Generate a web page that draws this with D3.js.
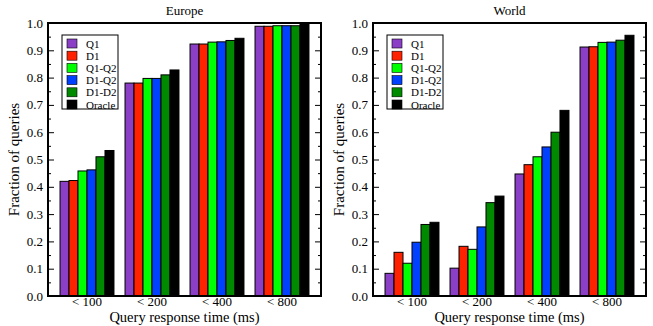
<!DOCTYPE html>
<html>
<head>
<meta charset="utf-8">
<script src="https://cdn.jsdelivr.net/npm/d3@7"></script>
<style>
  body { margin: 0; background: #fff; }
  svg text { font-family: "Liberation Serif", "Times New Roman", Times, serif; }
  .frame { fill: none; stroke: #000; stroke-width: 2; }
  .bar { stroke: #000; stroke-width: 1; }
  .tick-lbl { font-size: 13px; }
</style>
</head>
<body>
<svg id="chart" width="653" height="326"></svg>
<script>
// Chart data
const categories = ["< 100", "< 200", "< 400", "< 800"];
const series = ["Q1", "D1", "Q1-Q2", "D1-Q2", "D1-D2", "Oracle"];
const colors = ["#8b3fc6", "#ff2200", "#00ff00", "#0040ff", "#008a00", "#000000"];

// Europe values, one array per category (in series order)
const europe = [
  [0.420, 0.423, 0.458, 0.462, 0.510, 0.533],
  [0.780, 0.780, 0.797, 0.797, 0.810, 0.828],
  [0.923, 0.923, 0.930, 0.931, 0.936, 0.944],
  [0.988, 0.988, 0.990, 0.990, 0.990, 0.998]
];

// World values
const world = [
  [0.083, 0.160, 0.120, 0.197, 0.262, 0.270],
  [0.102, 0.182, 0.171, 0.253, 0.342, 0.366],
  [0.447, 0.481, 0.510, 0.546, 0.600, 0.680],
  [0.912, 0.913, 0.929, 0.930, 0.937, 0.955]
];

const yTicks = [0, 0.1, 0.2, 0.3, 0.4, 0.5, 0.6, 0.7, 0.8, 0.9, 1.0];
const yMinor = d3.range(0.05, 1, 0.1);

const svg = d3.select("#chart");
const plotTop = 23, plotBottom = 296, plotW = 273;

function drawPanel(left, title, data) {
  let g = svg.append("g").attr("transform", `translate(${left},0)`);

  let x = d3.scaleBand().domain(categories).range([0, plotW])
    .paddingInner(0.17).paddingOuter(0.185);
  let xs = d3.scaleBand().domain(series).range([0, x.bandwidth()]);
  let y = d3.scaleLinear().domain([0, 1]).range([plotBottom, plotTop]);

  // Bars
  data.forEach((vals, ci) => {
    g.append("g")
      .attr("transform", `translate(${x(categories[ci])},0)`)
      .selectAll("rect")
      .data(vals)
      .enter()
      .append("rect")
      .attr("class", "bar")
      .attr("x", (d, i) => xs(series[i]))
      .attr("width", xs.bandwidth())
      .attr("y", d => y(d))
      .attr("height", d => y(0) - y(d))
      .attr("fill", (d, i) => colors[i]);
  });

  // Left axis with inward ticks
  g.append("g").call(d3.axisRight(y).tickValues(yTicks).tickSize(6).tickFormat(""))
    .select(".domain").remove();
  g.append("g").call(d3.axisRight(y).tickValues(yMinor).tickSize(3).tickFormat(""))
    .select(".domain").remove();
  g.selectAll(".yl")
    .data(yTicks)
    .enter()
    .append("text")
    .attr("class", "tick-lbl")
    .attr("x", -5)
    .attr("y", d => y(d) + 4.5)
    .attr("text-anchor", "end")
    .text(d3.format(".1f"));

  // Right axis with inward ticks
  g.append("g").attr("transform", `translate(${plotW},0)`)
    .call(d3.axisLeft(y).tickValues(yTicks).tickSize(6).tickFormat(""))
    .select(".domain").remove();
  g.append("g").attr("transform", `translate(${plotW},0)`)
    .call(d3.axisLeft(y).tickValues(yMinor).tickSize(3).tickFormat(""))
    .select(".domain").remove();

  // X labels
  g.selectAll(".xl")
    .data(categories)
    .enter()
    .append("text")
    .attr("class", "tick-lbl")
    .attr("x", d => x(d) + x.bandwidth() / 2)
    .attr("y", plotBottom + 10)
    .attr("text-anchor", "middle")
    .text(d => d);

  // Frame
  g.append("rect").attr("class", "frame")
    .attr("x", 0).attr("y", plotTop).attr("width", plotW).attr("height", plotBottom - plotTop);

  // Titles
  g.append("text").attr("x", plotW / 2).attr("y", 15)
    .attr("text-anchor", "middle").style("font-size", "13px").text(title);
  g.append("text").attr("x", plotW / 2).attr("y", 322)
    .attr("text-anchor", "middle").style("font-size", "14.5px").text("Query response time (ms)");
  g.append("text")
    .attr("transform", `translate(-29,${(plotTop + plotBottom) / 2}) rotate(-90)`)
    .attr("text-anchor", "middle").style("font-size", "15px").text("Fraction of queries");

  // Legend
  let lg = g.append("g").attr("transform", "translate(14,35)");
  lg.append("rect").attr("x", 0).attr("y", 0).attr("width", 56).attr("height", 74)
    .attr("fill", "#fff").attr("stroke", "#000").attr("stroke-width", 1);
  let items = lg.selectAll(".li")
    .data(series)
    .enter()
    .append("g")
    .attr("transform", (d, i) => `translate(5,${4 + i * 12.2})`);
  items.append("rect")
    .attr("width", 10).attr("height", 9)
    .attr("fill", (d, i) => colors[i])
    .attr("stroke", "#000").attr("stroke-width", 0.6);
  items.append("text")
    .attr("x", 19).attr("y", 8.5)
    .style("font-size", "11px")
    .text(d => d);
}

drawPanel(48, "Europe", europe);
drawPanel(373, "World", world);
</script>
</body>
</html>
